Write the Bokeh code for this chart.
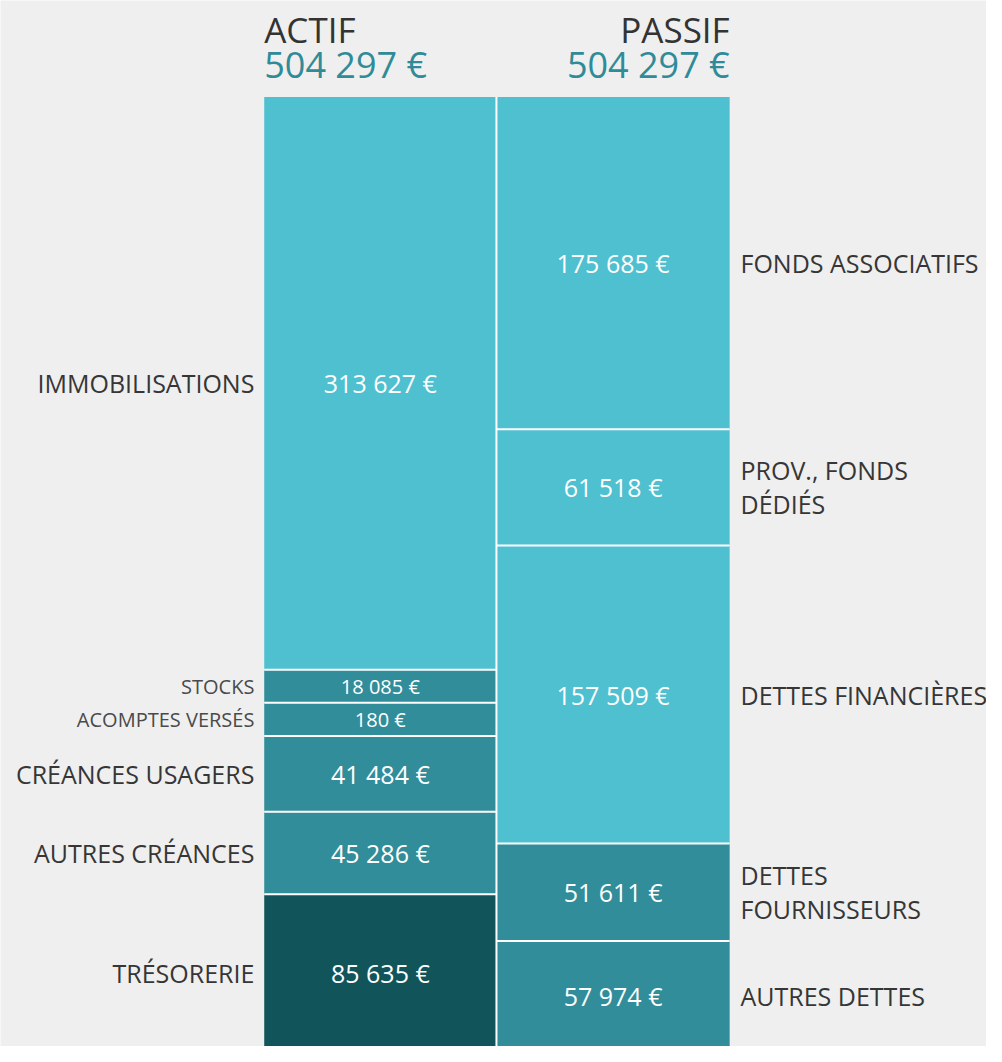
from bokeh.plotting import figure
from bokeh.models import Range1d, ColumnDataSource
from bokeh.core.properties import value
from bokeh.embed import file_html
from bokeh.resources import INLINE

# ---------------- data ----------------
actif_labels = ["IMMOBILISATIONS", "STOCKS", "ACOMPTES VERSÉS",
                "CRÉANCES USAGERS", "AUTRES CRÉANCES", "TRÉSORERIE"]
actif_values = [313627, 18085, 180, 41484, 45286, 85635]
actif_shade = [0, 1, 1, 1, 1, 2]
actif_small = [False, True, True, False, False, False]

passif_labels = ["FONDS ASSOCIATIFS", "PROV., FONDS\nDÉDIÉS", "DETTES FINANCIÈRES",
                 "DETTES\nFOURNISSEURS", "AUTRES DETTES"]
passif_values = [175685, 61518, 157509, 51611, 57974]
passif_shade = [0, 0, 0, 1, 1]

# ---------------- style ----------------
PALETTE = ["#4fc0d0", "#318d9a", "#11555b"]
BG = "#efefef"
W, H = 986, 1046             # figure size (fits window with 8px margin)
VW, VH = 1002, 1062          # virtual layout space
TOP_PX = 98                  # bars start here (layout px)
PX_PER_EUR = 0.00192
MIN_SHARE = 0.036            # minimum display share for tiny blocks
FONT = value("Open Sans")
LABEL_COL = "#363636"

def fmt(v):
    return f"{v:,}".replace(",", " ") + " €"

def px_to_y(px):
    return (px - TOP_PX) / PX_PER_EUR

def stack(vals):
    tops, bots = [], []
    acc = 0.0
    for v in vals:
        tops.append(acc)
        acc += v
        bots.append(acc)
    return tops, bots

total_actif = sum(actif_values)
total_passif = sum(passif_values)

# actif display heights: tiny blocks get a minimum size, then rescale to total
disp = [max(v, MIN_SHARE * total_actif) for v in actif_values]
k = total_actif / sum(disp)
disp = [d * k for d in disp]

p = figure(width=W, height=H, output_backend="svg", toolbar_location=None,
           x_range=Range1d(0, VW),
           y_range=Range1d(px_to_y(VH), px_to_y(0)),
           x_axis_type=None, y_axis_type=None,
           min_border=0, outline_line_color=None,
           background_fill_color=BG, border_fill_color=BG)
p.grid.visible = False

AX_L, AX_R = 268, 504
PX_L, PX_R = 504, 741
BOTTOM = max(total_actif, total_passif)

# ---- actif ----
ta, ba = stack(disp)
mids_a = [(a + c) / 2 for a, c in zip(ta, ba)]
src_a = ColumnDataSource(dict(top=ta, bottom=ba,
                              color=[PALETTE[s] for s in actif_shade]))
p.quad(left=AX_L, right=AX_R, top="top", bottom="bottom", source=src_a,
       fill_color="color", line_color=None)

# ---- passif ----
tp, bp = stack(passif_values)
mids_p = [(a + c) / 2 for a, c in zip(tp, bp)]
src_p = ColumnDataSource(dict(top=tp, bottom=bp, mid=mids_p,
                              color=[PALETTE[s] for s in passif_shade],
                              label=passif_labels,
                              val=[fmt(v) for v in passif_values]))
p.quad(left=PX_L, right=PX_R, top="top", bottom="bottom", source=src_p,
       fill_color="color", line_color=None)

# ---- white separators ----
p.segment(x0=[AX_L] * (len(ba) - 1), x1=[AX_R] * (len(ba) - 1),
          y0=ba[:-1], y1=ba[:-1], line_color="white", line_width=2)
p.segment(x0=[PX_L] * (len(bp) - 1), x1=[PX_R] * (len(bp) - 1),
          y0=bp[:-1], y1=bp[:-1], line_color="white", line_width=2)
p.segment(x0=[AX_R], x1=[AX_R], y0=[0], y1=[BOTTOM],
          line_color="white", line_width=2)

# ---- actif texts ----
big = [i for i, s in enumerate(actif_small) if not s]
small = [i for i, s in enumerate(actif_small) if s]
for idx, size, col in ((big, "25px", LABEL_COL), (small, "20px", "#4a4a4a")):
    mids = [mids_a[i] for i in idx]
    p.text(x=[AX_L - 10] * len(idx), y=mids, text=[actif_labels[i] for i in idx],
           text_align="right", text_baseline="middle", text_font=FONT,
           text_font_size=size, text_color=col)
    p.text(x=[(AX_L + AX_R) / 2] * len(idx), y=mids,
           text=[fmt(actif_values[i]) for i in idx],
           text_align="center", text_baseline="middle", text_font=FONT,
           text_font_size=size, text_color="white")

# ---- passif texts ----
p.text(x=PX_R + 11, y="mid", text="label", source=src_p,
       text_align="left", text_baseline="middle", text_font=FONT,
       text_font_size="25px", text_color=LABEL_COL, text_line_height=1.0)
p.text(x=(PX_L + PX_R) / 2, y="mid", text="val", source=src_p,
       text_align="center", text_baseline="middle", text_font=FONT,
       text_font_size="25px", text_color="white")

# ---- headers ----
p.text(x=[AX_L], y=[px_to_y(29)], text=["ACTIF"], text_align="left",
       text_baseline="middle", text_font=FONT, text_font_size="35px",
       text_color="#333333")
p.text(x=[AX_L], y=[px_to_y(65)], text=[fmt(total_actif)], text_align="left",
       text_baseline="middle", text_font=FONT, text_font_size="36px",
       text_color="#2f8b98")
p.text(x=[PX_R], y=[px_to_y(29)], text=["PASSIF"], text_align="right",
       text_baseline="middle", text_font=FONT, text_font_size="35px",
       text_color="#333333")
p.text(x=[PX_R], y=[px_to_y(65)], text=[fmt(total_passif)], text_align="right",
       text_baseline="middle", text_font=FONT, text_font_size="36px",
       text_color="#2f8b98")

open("out.html", "w").write(file_html(p, INLINE))
